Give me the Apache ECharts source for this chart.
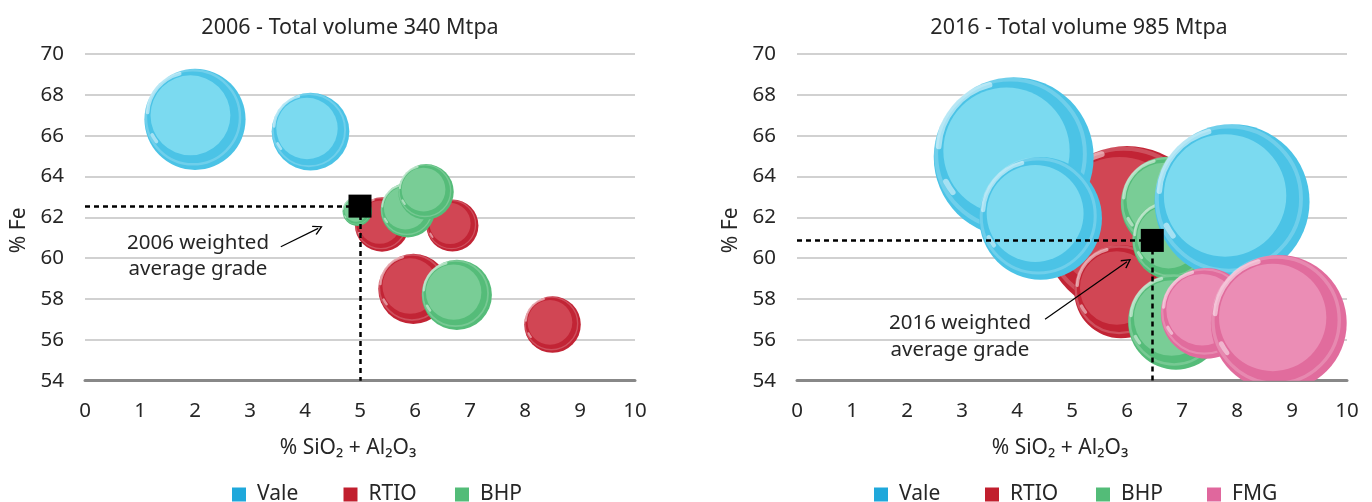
<!DOCTYPE html>
<html>
<head>
<meta charset="utf-8">
<script src="https://cdn.jsdelivr.net/npm/echarts@6/dist/echarts.min.js"></script>
<style>
  html, body { margin: 0; padding: 0; background: #fff; }
  #chart { width: 1372px; height: 502px; }
</style>
</head>
<body>
<div id="chart"></div>
<script>
// [SiO2+Al2O3 %, Fe %, volume Mtpa]
var vale2006 = [[2.0, 66.8, 83], [4.1, 66.2, 49]];
var rtio2006 = [[5.4, 61.65, 24], [6.68, 61.6, 22], [5.97, 58.5, 40], [8.5, 56.75, 26]];
var bhp2006 = [[4.95, 62.3, 7], [5.87, 62.35, 24], [6.2, 63.25, 25], [6.76, 58.2, 40]];
var avg2006 = [5.0, 62.55];

var vale2016 = [[3.94, 64.95, 165], [4.43, 61.95, 97], [7.91, 62.77, 155]];
var rtio2016 = [[6.0, 61.38, 182], [5.89, 58.36, 56]];
var bhp2016 = [[6.75, 62.65, 58], [6.82, 60.88, 41], [6.89, 56.88, 59]];
var fmg2016 = [[7.44, 57.3, 53], [8.76, 56.83, 119]];
var avg2016 = [6.46, 60.87];

var titles = ['2006 - Total volume 340 Mtpa', '2016 - Total volume 985 Mtpa'];
var notes = ['2006 weighted\naverage grade', '2016 weighted\naverage grade'];
var names2006 = ['Vale', 'RTIO', 'BHP'];
var names2016 = ['Vale', 'RTIO', 'BHP', 'FMG'];
var feRange = [54, 70, 2];
var silicaRange = [0, 10, 1];

var FONT = 'Noto Sans';
var TXT = '#262626';
var colors = {
  Vale: { legend: '#1FA8DB', dark: '#4BC3E6', light: '#7BDAF0' },
  RTIO: { legend: '#C11F2E', dark: '#C22435', light: '#D14654' },
  BHP: { legend: '#53BC78', dark: '#55BC79', light: '#79CD96' },
  FMG: { legend: '#E0679D', dark: '#E16C9D', light: '#EB8DB5' }
};
// px of diameter per sqrt(Mtpa), each panel scaled on its own
var bubbleScale = [11.1, 12.45];

function bubble(name, scale) {
  var c = colors[name];
  return function (params, api) {
    var p = api.coord([api.value(0), api.value(1)]);
    var R = scale * Math.sqrt(api.value(2)) / 2;
    var ix = p[0] - R * 0.09, iy = p[1] - R * 0.08;
    var shine = { stroke: 'rgba(255,255,255,0.5)', lineWidth: R * 0.07, fill: null, lineCap: 'round' };
    return {
      type: 'group',
      children: [
        { type: 'circle', shape: { cx: p[0], cy: p[1], r: R }, style: { fill: c.dark } },
        { type: 'circle', shape: { cx: p[0] - R * 0.04, cy: p[1] - R * 0.04, r: R * 0.93 },
          style: { fill: null, stroke: 'rgba(255,255,255,0.2)', lineWidth: R * 0.05 } },
        { type: 'circle', shape: { cx: ix, cy: iy, r: R * 0.79 }, style: { fill: c.light } },
        { type: 'arc', shape: { cx: ix, cy: iy, r: R * 0.85, startAngle: Math.PI * 1.02, endAngle: Math.PI * 1.42 }, style: shine },
        { type: 'arc', shape: { cx: ix, cy: iy, r: R * 0.85, startAngle: Math.PI * 0.79, endAngle: Math.PI * 0.85 }, style: shine }
      ]
    };
  };
}

function bubbleSeries(name, data, idx) {
  return {
    name: name,
    type: 'custom',
    xAxisIndex: idx,
    yAxisIndex: idx,
    clip: true,
    itemStyle: { color: colors[name].legend },
    renderItem: bubble(name, bubbleScale[idx]),
    data: data
  };
}

var chevron = 'path://M5,0 L10,9 L9,10 L5,2.6 L1,10 L0,9 Z';

function avgSeries(avg, idx, arrowFrom, arrowTo) {
  return {
    type: 'scatter',
    xAxisIndex: idx,
    yAxisIndex: idx,
    symbol: 'rect',
    symbolSize: 23,
    itemStyle: { color: '#000', opacity: 1 },
    z: 5,
    silent: true,
    data: [avg],
    markLine: {
      silent: true,
      symbol: ['none', 'none'],
      label: { show: false },
      lineStyle: { color: '#000', width: 2.5, type: [5, 4], opacity: 1 },
      data: [
        [{ coord: [silicaRange[0], avg[1]] }, { coord: [avg[0], avg[1]] }],
        [{ coord: [avg[0], avg[1]] }, { coord: [avg[0], feRange[0]] }],
        [{ coord: arrowFrom, lineStyle: { type: 'solid', width: 1.2 } },
         { coord: arrowTo, symbol: chevron, symbolSize: [10, 10] }]
      ]
    }
  };
}

function xAxis(idx) {
  return {
    gridIndex: idx,
    type: 'value',
    min: silicaRange[0], max: silicaRange[1], interval: silicaRange[2],
    name: '% SiO₂ + Al₂O₃',
    nameLocation: 'middle',
    nameGap: 57,
    nameTextStyle: { fontFamily: FONT, fontSize: 21, color: TXT, padding: [0, 24, 0, 0] },
    axisLine: { show: true, lineStyle: { color: '#888', width: 3 } },
    axisTick: { show: false },
    axisLabel: { margin: 20, fontFamily: FONT, fontSize: 20.5, color: TXT },
    splitLine: { show: false }
  };
}

function yAxis(idx) {
  return {
    gridIndex: idx,
    type: 'value',
    min: feRange[0], max: feRange[1], interval: feRange[2],
    name: '% Fe',
    nameLocation: 'middle',
    nameGap: 55,
    nameTextStyle: { fontFamily: FONT, fontSize: 21, color: TXT, padding: [0, 26, 0, 0] },
    axisLine: { show: false },
    axisTick: { show: false },
    axisLabel: { margin: 21, fontFamily: FONT, fontSize: 20.5, color: TXT },
    splitLine: { show: true, lineStyle: { color: '#C2C2C2', width: 1.5 } }
  };
}

// one legend per entry so the entries sit on an even pitch
function legends(names, left, step) {
  return names.map(function (n, i) {
    return {
      data: [n],
      left: left + i * step,
      top: 484,
      padding: 0,
      icon: 'rect',
      itemWidth: 14,
      itemHeight: 14,
      selectedMode: false,
      formatter: function (name) { return '{n|' + name + '}'; },
      textStyle: {
        fontFamily: FONT, fontSize: 21, color: TXT,
        rich: { n: { padding: [0, 0, 0, 6], fontFamily: FONT, fontSize: 21, color: TXT } }
      }
    };
  });
}

var chart = echarts.init(document.getElementById('chart'), null, { renderer: 'canvas' });

chart.setOption({
  animation: false,
  backgroundColor: '#fff',
  title: [
    { text: titles[0], left: 345, top: 12, textAlign: 'center',
      textStyle: { fontFamily: FONT, fontSize: 21.5, fontWeight: 'normal', color: TXT } },
    { text: titles[1], left: 1074, top: 12, textAlign: 'center',
      textStyle: { fontFamily: FONT, fontSize: 21.5, fontWeight: 'normal', color: TXT } }
  ],
  legend: legends(names2006, 232, 111.5).concat(legends(names2016, 874, 111)),
  grid: [
    { left: 85, top: 54, width: 550, height: 326.7 },
    { left: 797, top: 54, width: 550, height: 326.7 }
  ],
  xAxis: [xAxis(0), xAxis(1)],
  yAxis: [yAxis(0), yAxis(1)],
  graphic: [
    { type: 'text', x: 198, y: 256, z: 10,
      style: { text: notes[0], align: 'center', verticalAlign: 'middle', font: '20.5px "Noto Sans"', lineHeight: 26, fill: TXT } },
    { type: 'text', x: 960, y: 337, z: 10,
      style: { text: notes[1], align: 'center', verticalAlign: 'middle', font: '20.5px "Noto Sans"', lineHeight: 27, fill: TXT } }
  ],
  series: [
    bubbleSeries('RTIO', rtio2006, 0),
    bubbleSeries('BHP', bhp2006, 0),
    bubbleSeries('Vale', vale2006, 0),
    avgSeries(avg2006, 0, [3.56, 60.56], [4.24, 61.46]),

    bubbleSeries('RTIO', rtio2016, 1),
    bubbleSeries('BHP', bhp2016, 1),
    bubbleSeries('Vale', vale2016, 1),
    bubbleSeries('FMG', fmg2016, 1),
    avgSeries(avg2016, 1, [4.51, 57.01], [6.0, 59.82])
  ]
});
</script>
</body>
</html>
